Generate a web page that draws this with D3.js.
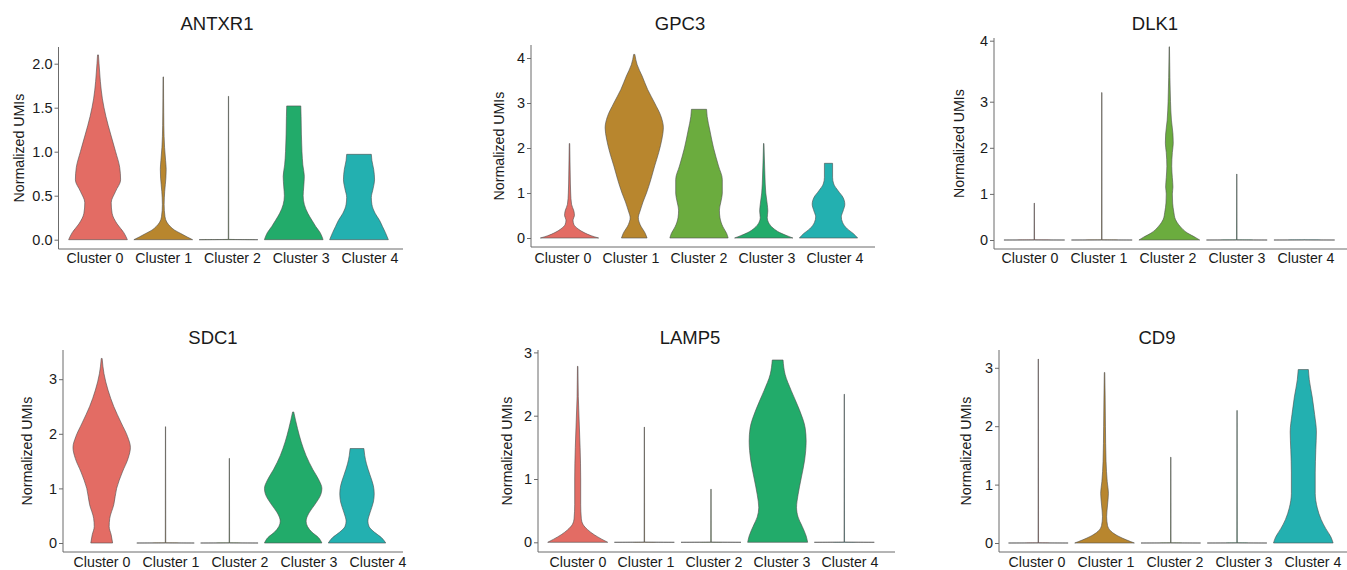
<!DOCTYPE html>
<html>
<head>
<meta charset="utf-8">
<script src="https://cdn.jsdelivr.net/npm/d3@7"></script>
<style>
  body { margin: 0; background: #fff; }
  text { font-family: "Liberation Sans", Arial, sans-serif; fill: #1a1a1a; }
</style>
</head>
<body>
<svg id="fig" width="1347" height="570"></svg>
<script>
////////////////////////////////////////////////////////////////////////
// Data

let clusters = ["Cluster 0", "Cluster 1", "Cluster 2", "Cluster 3", "Cluster 4"];
let genes = ["ANTXR1", "GPC3", "DLK1", "SDC1", "LAMP5", "CD9"];

// y tick values per gene
let antxr1Ticks = [0, 0.5, 1, 1.5, 2];
let gpc3Ticks = [0, 1, 2, 3, 4];
let dlk1Ticks = [0, 1, 2, 3, 4];
let sdc1Ticks = [0, 1, 2, 3];
let lamp5Ticks = [0, 1, 2, 3];
let cd9Ticks = [0, 1, 2, 3];

// violin outlines: [value, relative half width] from 0 up to the max value
let antxr1 = [
  [[0,1],[0.08,0.88],[0.18,0.65],[0.3,0.48],[0.42,0.45],[0.55,0.6],[0.68,0.77],[0.82,0.74],[1.0,0.6],[1.2,0.43],[1.4,0.27],[1.6,0.15],[1.8,0.08],[2.0,0.035],[2.1,0.015]],
  [[0,1],[0.03,0.82],[0.07,0.6],[0.11,0.38],[0.15,0.24],[0.2,0.12],[0.26,0.06],[0.4,0.03],[0.55,0.05],[0.7,0.09],[0.8,0.1],[0.9,0.08],[1.05,0.045],[1.3,0.02],[1.6,0.012],[1.85,0.008]],
  [[0,1],[0.004,0.008],[1.63,0.004]],
  [[0,1],[0.08,0.9],[0.15,0.75],[0.22,0.62],[0.3,0.48],[0.4,0.36],[0.5,0.32],[0.6,0.34],[0.72,0.36],[0.85,0.31],[1.0,0.28],[1.2,0.26],[1.4,0.25],[1.52,0.24]],
  [[0,1],[0.08,0.9],[0.15,0.8],[0.22,0.7],[0.3,0.55],[0.4,0.44],[0.48,0.42],[0.58,0.48],[0.68,0.53],[0.8,0.5],[0.9,0.44],[0.97,0.42]]
];
let gpc3 = [
  [[0,1],[0.05,0.75],[0.12,0.5],[0.2,0.3],[0.3,0.15],[0.4,0.12],[0.5,0.17],[0.6,0.15],[0.75,0.07],[1.0,0.04],[1.4,0.025],[1.8,0.015],[2.1,0.008]],
  [[0,0.44],[0.1,0.38],[0.3,0.2],[0.45,0.14],[0.6,0.2],[0.8,0.3],[1.0,0.42],[1.3,0.57],[1.6,0.7],[1.9,0.84],[2.2,0.95],[2.45,1.0],[2.7,0.92],[3.0,0.7],[3.3,0.46],[3.6,0.27],[3.85,0.1],[4.08,0.02]],
  [[0,1],[0.1,0.95],[0.25,0.82],[0.45,0.72],[0.62,0.7],[0.8,0.75],[1.0,0.8],[1.3,0.8],[1.6,0.67],[2.0,0.5],[2.4,0.37],[2.7,0.28],[2.86,0.26]],
  [[0,1],[0.05,0.8],[0.12,0.55],[0.22,0.32],[0.35,0.16],[0.45,0.12],[0.6,0.14],[0.75,0.12],[1.0,0.07],[1.4,0.04],[1.8,0.02],[2.1,0.008]],
  [[0,1],[0.1,0.85],[0.2,0.65],[0.35,0.48],[0.47,0.44],[0.6,0.5],[0.75,0.56],[0.9,0.5],[1.05,0.33],[1.2,0.18],[1.35,0.14],[1.66,0.14]]
];
let dlk1 = [
  [[0,1],[0.004,0.008],[0.8,0.004]],
  [[0,1],[0.004,0.008],[3.15,0.004]],
  [[0,1],[0.06,0.85],[0.15,0.6],[0.3,0.35],[0.45,0.2],[0.6,0.15],[0.8,0.11],[1.0,0.1],[1.15,0.12],[1.35,0.1],[1.6,0.08],[1.9,0.1],[2.1,0.13],[2.3,0.12],[2.6,0.07],[3.0,0.04],[3.4,0.02],[3.9,0.006]],
  [[0,1],[0.004,0.008],[1.43,0.004]],
  [[0,1],[0.004,0.008],[0.008,0.004]]
];
let sdc1 = [
  [[0,0.38],[0.15,0.33],[0.3,0.26],[0.45,0.28],[0.7,0.42],[1.0,0.52],[1.3,0.72],[1.55,0.92],[1.75,1.0],[1.95,0.9],[2.2,0.68],[2.5,0.42],[2.8,0.22],[3.1,0.08],[3.38,0.015]],
  [[0,1],[0.004,0.008],[2.13,0.004]],
  [[0,1],[0.004,0.008],[1.55,0.004]],
  [[0,1],[0.1,0.88],[0.2,0.65],[0.3,0.5],[0.4,0.45],[0.55,0.55],[0.7,0.75],[0.9,0.97],[1.0,1.0],[1.15,0.9],[1.35,0.68],[1.6,0.45],[1.85,0.28],[2.1,0.15],[2.4,0.02]],
  [[0,1],[0.1,0.85],[0.2,0.6],[0.3,0.42],[0.4,0.38],[0.55,0.45],[0.75,0.57],[0.9,0.6],[1.05,0.57],[1.25,0.45],[1.45,0.33],[1.6,0.27],[1.73,0.24]]
];
let lamp5 = [
  [[0,1],[0.05,0.8],[0.12,0.55],[0.2,0.33],[0.28,0.18],[0.38,0.12],[0.6,0.1],[1.0,0.1],[1.5,0.08],[1.9,0.05],[2.3,0.02],[2.78,0.008]],
  [[0,1],[0.004,0.008],[1.82,0.004]],
  [[0,1],[0.004,0.008],[0.84,0.004]],
  [[0,1],[0.1,0.95],[0.25,0.82],[0.4,0.68],[0.55,0.63],[0.75,0.68],[1.0,0.78],[1.3,0.9],[1.6,0.95],[1.8,0.92],[2.1,0.72],[2.4,0.45],[2.65,0.25],[2.88,0.18]],
  [[0,1],[0.004,0.008],[2.34,0.004]]
];
let cd9 = [
  [[0,1],[0.004,0.008],[3.15,0.004]],
  [[0,1],[0.05,0.75],[0.12,0.45],[0.2,0.22],[0.3,0.1],[0.45,0.07],[0.65,0.1],[0.85,0.13],[1.05,0.09],[1.4,0.05],[2.0,0.03],[2.5,0.02],[2.92,0.008]],
  [[0,1],[0.004,0.008],[1.47,0.004]],
  [[0,1],[0.004,0.008],[2.27,0.004]],
  [[0,1],[0.1,0.93],[0.25,0.75],[0.4,0.6],[0.6,0.47],[0.85,0.4],[1.2,0.4],[1.6,0.42],[1.9,0.44],[2.2,0.38],[2.5,0.3],[2.8,0.2],[2.97,0.17]]
];

let violinSets = [antxr1, gpc3, dlk1, sdc1, lamp5, cd9];
let tickSets = [antxr1Ticks, gpc3Ticks, dlk1Ticks, sdc1Ticks, lamp5Ticks, cd9Ticks];

////////////////////////////////////////////////////////////////////////
// Styles and layout

let palette = ["#E36C64", "#B8862E", "#6BAC3E", "#22AB6A", "#23B0B0"];

// per panel: axis box, y scale knots, violin / label spread, text anchors
let layout = [
  {left: 58.5, right: 403, top: 47, bottom: 249, yDom: [0, 2], yRng: [239.7, 63.7], c: [98, 359], l: [95, 370], titleX: 217, ylabX: 19, fmt: ".1f"},
  {left: 531, right: 875, top: 45, bottom: 247, yDom: [0, 4], yRng: [238, 58], c: [569.5, 828.5], l: [563, 835], titleX: 680, ylabX: 499, fmt: "d"},
  {left: 994, right: 1347, top: 38, bottom: 249, yDom: [0, 3, 4], yRng: [240, 101.7, 40.7], c: [1034.3, 1304.3], l: [1030, 1306], titleX: 1155, ylabX: 959, fmt: "d"},
  {left: 63, right: 403, top: 350, bottom: 552, yDom: [0, 3], yRng: [543, 379.2], c: [101.7, 357], l: [102, 378], titleX: 213, ylabX: 27, fmt: "d"},
  {left: 538, right: 895, top: 350, bottom: 552, yDom: [0, 3], yRng: [542.3, 352.4], c: [577.7, 844.3], l: [578, 850], titleX: 690, ylabX: 507, fmt: "d"},
  {left: 999, right: 1347, top: 350, bottom: 552, yDom: [0, 3], yRng: [543, 367.8], c: [1038.3, 1303.3], l: [1037, 1313], titleX: 1157, ylabX: 966, fmt: "d"}
];
let titleY = [30, 343.5];
let xLabelY = [263, 567];

let svg = d3.select("#fig");

genes.forEach(function (gene, i) {
  let lay = layout[i];
  let row = i < 3 ? 0 : 1;
  let g = svg.append("g");

  let y = d3.scaleLinear().domain(lay.yDom).range(lay.yRng);
  let x = d3.scalePoint().domain(clusters).range(lay.c);
  let xLab = d3.scalePoint().domain(clusters).range(lay.l);
  let half = 0.45 * x.step();

  // violins
  violinSets[i].forEach(function (profile, k) {
    let cx = x(clusters[k]);
    let area = d3.area()
      .y(d => y(d[0]))
      .x0(d => cx - d[1] * half)
      .x1(d => cx + d[1] * half)
      .curve(d3.curveMonotoneY);
    g.append("path")
      .attr("d", area(profile))
      .attr("fill", palette[k])
      .attr("stroke", "#4d4d4d")
      .attr("stroke-width", 0.6)
      .attr("stroke-linejoin", "round");
  });

  // axes
  g.append("line")
    .attr("x1", lay.left).attr("x2", lay.left)
    .attr("y1", lay.top).attr("y2", lay.bottom)
    .attr("stroke", "#6b6b6b").attr("stroke-width", 1);
  g.append("line")
    .attr("x1", lay.left).attr("x2", lay.right)
    .attr("y1", lay.bottom).attr("y2", lay.bottom)
    .attr("stroke", "#6b6b6b").attr("stroke-width", 1);

  let yAxis = g.append("g")
    .attr("transform", "translate(" + lay.left + ",0)")
    .call(d3.axisLeft(y).tickValues(tickSets[i]).tickFormat(d3.format(lay.fmt)).tickSize(4).tickPadding(2));
  yAxis.select(".domain").remove();
  yAxis.selectAll(".tick line").attr("stroke", "#6b6b6b");
  yAxis.selectAll(".tick text")
    .attr("font-size", 14.5)
    .attr("font-family", null)
    .attr("fill", "#1a1a1a");

  // cluster labels
  g.selectAll(".xlab")
    .data(clusters)
    .enter()
    .append("text")
    .attr("x", d => xLab(d))
    .attr("y", xLabelY[row])
    .attr("text-anchor", "middle")
    .attr("font-size", 14.2)
    .text(d => d);

  // title
  g.append("text")
    .attr("x", lay.titleX)
    .attr("y", titleY[row])
    .attr("text-anchor", "middle")
    .attr("font-size", 18.5)
    .text(gene);

  // y axis title
  g.append("text")
    .attr("transform", "translate(" + lay.ylabX + "," + (lay.top + lay.bottom) / 2 + ") rotate(-90)")
    .attr("dy", "0.35em")
    .attr("text-anchor", "middle")
    .attr("font-size", 14.2)
    .text("Normalized UMIs");
});
</script>
</body>
</html>
